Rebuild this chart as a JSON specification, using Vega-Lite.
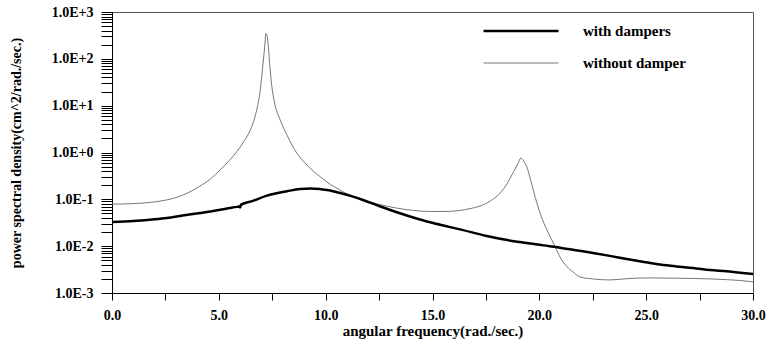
{
  "$schema": "https://vega.github.io/schema/vega-lite/v6.json",
  "width": 641,
  "height": 281,
  "autosize": {"type": "none"},
  "padding": {"left": 112, "top": 12, "right": 19, "bottom": 48},
  "background": "white",
  "config": {
    "view": {"stroke": "#555555", "strokeWidth": 1},
    "font": "Liberation Serif",
    "axis": {"grid": false, "domainColor": "black", "tickColor": "black", "labelColor": "black", "titleColor": "black", "labelFont": "Liberation Serif", "titleFont": "Liberation Serif", "labelFontWeight": "bold", "titleFontWeight": "bold", "labelOverlap": false, "labelBound": false, "labelFlush": false}
  },
  "datasets": {
    "psd": [
      {"series": "without damper", "freq": 0, "psd": 0.079},
      {"series": "without damper", "freq": 1.0, "psd": 0.081},
      {"series": "without damper", "freq": 1.8, "psd": 0.086},
      {"series": "without damper", "freq": 2.6, "psd": 0.098},
      {"series": "without damper", "freq": 3.35, "psd": 0.125},
      {"series": "without damper", "freq": 4.1, "psd": 0.19},
      {"series": "without damper", "freq": 4.6, "psd": 0.27},
      {"series": "without damper", "freq": 5.07, "psd": 0.43},
      {"series": "without damper", "freq": 5.5, "psd": 0.68},
      {"series": "without damper", "freq": 5.85, "psd": 1.05},
      {"series": "without damper", "freq": 6.2, "psd": 1.8},
      {"series": "without damper", "freq": 6.47, "psd": 3.0},
      {"series": "without damper", "freq": 6.7, "psd": 6.0},
      {"series": "without damper", "freq": 6.94, "psd": 22},
      {"series": "without damper", "freq": 7.08, "psd": 90},
      {"series": "without damper", "freq": 7.15, "psd": 190},
      {"series": "without damper", "freq": 7.2, "psd": 350},
      {"series": "without damper", "freq": 7.25, "psd": 320},
      {"series": "without damper", "freq": 7.31, "psd": 200},
      {"series": "without damper", "freq": 7.4, "psd": 60},
      {"series": "without damper", "freq": 7.48, "psd": 26},
      {"series": "without damper", "freq": 7.6, "psd": 12},
      {"series": "without damper", "freq": 7.87, "psd": 5.0},
      {"series": "without damper", "freq": 8.2, "psd": 2.3},
      {"series": "without damper", "freq": 8.65, "psd": 0.97},
      {"series": "without damper", "freq": 9.0, "psd": 0.62},
      {"series": "without damper", "freq": 9.42, "psd": 0.40},
      {"series": "without damper", "freq": 9.8, "psd": 0.29},
      {"series": "without damper", "freq": 10.21, "psd": 0.21},
      {"series": "without damper", "freq": 10.6, "psd": 0.165},
      {"series": "without damper", "freq": 11.0, "psd": 0.13},
      {"series": "without damper", "freq": 11.75, "psd": 0.098},
      {"series": "without damper", "freq": 12.5, "psd": 0.078},
      {"series": "without damper", "freq": 13.33, "psd": 0.065},
      {"series": "without damper", "freq": 14.1, "psd": 0.058},
      {"series": "without damper", "freq": 14.89, "psd": 0.055},
      {"series": "without damper", "freq": 15.6, "psd": 0.055},
      {"series": "without damper", "freq": 16.29, "psd": 0.058},
      {"series": "without damper", "freq": 16.8, "psd": 0.064},
      {"series": "without damper", "freq": 17.23, "psd": 0.072},
      {"series": "without damper", "freq": 17.7, "psd": 0.092},
      {"series": "without damper", "freq": 18.16, "psd": 0.135},
      {"series": "without damper", "freq": 18.5, "psd": 0.22},
      {"series": "without damper", "freq": 18.77, "psd": 0.37},
      {"series": "without damper", "freq": 19.0, "psd": 0.58},
      {"series": "without damper", "freq": 19.14, "psd": 0.76},
      {"series": "without damper", "freq": 19.3, "psd": 0.62},
      {"series": "without damper", "freq": 19.41, "psd": 0.50},
      {"series": "without damper", "freq": 19.6, "psd": 0.25},
      {"series": "without damper", "freq": 19.88, "psd": 0.085},
      {"series": "without damper", "freq": 20.1, "psd": 0.042},
      {"series": "without damper", "freq": 20.35, "psd": 0.0225},
      {"series": "without damper", "freq": 20.73, "psd": 0.0099},
      {"series": "without damper", "freq": 21.0, "psd": 0.0055},
      {"series": "without damper", "freq": 21.28, "psd": 0.0037},
      {"series": "without damper", "freq": 21.58, "psd": 0.0028},
      {"series": "without damper", "freq": 21.9, "psd": 0.0022},
      {"series": "without damper", "freq": 22.5, "psd": 0.0020},
      {"series": "without damper", "freq": 23.3, "psd": 0.0019},
      {"series": "without damper", "freq": 24.1, "psd": 0.00202},
      {"series": "without damper", "freq": 25.0, "psd": 0.0021},
      {"series": "without damper", "freq": 25.65, "psd": 0.00209},
      {"series": "without damper", "freq": 26.4, "psd": 0.00207},
      {"series": "without damper", "freq": 27.2, "psd": 0.00204},
      {"series": "without damper", "freq": 28.0, "psd": 0.0020},
      {"series": "without damper", "freq": 28.77, "psd": 0.00193},
      {"series": "without damper", "freq": 29.4, "psd": 0.00185},
      {"series": "without damper", "freq": 30.0, "psd": 0.00173},
      {"series": "with dampers", "freq": 0, "psd": 0.0328},
      {"series": "with dampers", "freq": 1.0, "psd": 0.0345},
      {"series": "with dampers", "freq": 2.0, "psd": 0.0375},
      {"series": "with dampers", "freq": 2.57, "psd": 0.040},
      {"series": "with dampers", "freq": 3.3, "psd": 0.045},
      {"series": "with dampers", "freq": 4.13, "psd": 0.051},
      {"series": "with dampers", "freq": 4.6, "psd": 0.055},
      {"series": "with dampers", "freq": 5.07, "psd": 0.060},
      {"series": "with dampers", "freq": 5.5, "psd": 0.065},
      {"series": "with dampers", "freq": 5.85, "psd": 0.069},
      {"series": "with dampers", "freq": 5.96, "psd": 0.070},
      {"series": "with dampers", "freq": 6.0, "psd": 0.067},
      {"series": "with dampers", "freq": 6.04, "psd": 0.077},
      {"series": "with dampers", "freq": 6.6, "psd": 0.093},
      {"series": "with dampers", "freq": 7.25, "psd": 0.12},
      {"series": "with dampers", "freq": 7.7, "psd": 0.135},
      {"series": "with dampers", "freq": 8.19, "psd": 0.149},
      {"series": "with dampers", "freq": 8.8, "psd": 0.166},
      {"series": "with dampers", "freq": 9.3, "psd": 0.171},
      {"series": "with dampers", "freq": 9.8, "psd": 0.164},
      {"series": "with dampers", "freq": 10.21, "psd": 0.155},
      {"series": "with dampers", "freq": 10.68, "psd": 0.136},
      {"series": "with dampers", "freq": 11.2, "psd": 0.117},
      {"series": "with dampers", "freq": 11.75, "psd": 0.097},
      {"series": "with dampers", "freq": 12.5, "psd": 0.072},
      {"series": "with dampers", "freq": 13.33, "psd": 0.053},
      {"series": "with dampers", "freq": 14.1, "psd": 0.041},
      {"series": "with dampers", "freq": 14.89, "psd": 0.0323},
      {"series": "with dampers", "freq": 15.6, "psd": 0.027},
      {"series": "with dampers", "freq": 16.29, "psd": 0.0228},
      {"series": "with dampers", "freq": 17.54, "psd": 0.0165},
      {"series": "with dampers", "freq": 18.5, "psd": 0.0135},
      {"series": "with dampers", "freq": 19.41, "psd": 0.0117},
      {"series": "with dampers", "freq": 20.2, "psd": 0.0104},
      {"series": "with dampers", "freq": 20.97, "psd": 0.0093},
      {"series": "with dampers", "freq": 21.7, "psd": 0.0082},
      {"series": "with dampers", "freq": 22.51, "psd": 0.00716},
      {"series": "with dampers", "freq": 23.3, "psd": 0.0062},
      {"series": "with dampers", "freq": 24.09, "psd": 0.00533},
      {"series": "with dampers", "freq": 24.9, "psd": 0.0046},
      {"series": "with dampers", "freq": 25.65, "psd": 0.00405},
      {"series": "with dampers", "freq": 26.4, "psd": 0.0037},
      {"series": "with dampers", "freq": 27.19, "psd": 0.00343},
      {"series": "with dampers", "freq": 28.0, "psd": 0.0031},
      {"series": "with dampers", "freq": 28.77, "psd": 0.0029},
      {"series": "with dampers", "freq": 29.4, "psd": 0.0027},
      {"series": "with dampers", "freq": 30.0, "psd": 0.00255}
    ]
  },
  "data": {"name": "psd"},
  "encoding": {
    "x": {
      "field": "freq", "type": "quantitative",
      "scale": {"domain": [0, 30], "nice": false, "zero": false},
      "axis": {
        "values": [0, 2.5, 5, 7.5, 10, 12.5, 15, 17.5, 20, 22.5, 25, 27.5, 30],
        "labelExpr": "datum.value % 5 === 0 ? format(datum.value, '.1f') : ''",
        "tickSize": 7, "labelPadding": 8, "labelFontSize": 14,
        "title": "angular frequency(rad./sec.)", "titleFontSize": 15, "titlePadding": 1
      }
    },
    "y": {
      "field": "psd", "type": "quantitative",
      "scale": {"type": "log", "domain": [0.001, 1000], "nice": false},
      "axis": {
        "values": [0.001, 0.002, 0.003, 0.004, 0.005, 0.006, 0.007, 0.008, 0.009, 0.01, 0.02, 0.03, 0.04, 0.05, 0.06, 0.07, 0.08, 0.09, 0.1, 0.2, 0.3, 0.4, 0.5, 0.6, 0.7, 0.8, 0.9, 1, 2, 3, 4, 5, 6, 7, 8, 9, 10, 20, 30, 40, 50, 60, 70, 80, 90, 100, 200, 300, 400, 500, 600, 700, 800, 900, 1000],
        "labelExpr": "abs(log(datum.value)/LN10 - round(log(datum.value)/LN10)) < 0.000001 ? '1.0E' + (round(log(datum.value)/LN10) >= 0 ? '+' : '-') + abs(round(log(datum.value)/LN10)) : ''",
        "tickSize": 11, "labelPadding": 8, "labelFontSize": 14,
        "title": "power spectral density(cm^2/rad./sec.)", "titleFontSize": 14,
        "titleX": -96, "titleBaseline": "middle"
      }
    },
    "color": {
      "field": "series", "type": "nominal",
      "scale": {"domain": ["with dampers", "without damper"], "range": ["black", "#777777"]},
      "legend": {
        "title": null, "orient": "none", "legendX": 401.5, "legendY": 11.5,
        "symbolType": "M-5,0H5", "symbolSize": 225, "labelOffset": 54.5,
        "rowPadding": 16, "padding": 0,
        "labelFont": "Liberation Serif", "labelFontWeight": "bold", "labelFontSize": 15, "labelColor": "black",
        "encode": {"symbols": {"update": {"strokeWidth": {"signal": "datum.value === 'with dampers' ? 2.5 : 1"}}}}
      }
    }
  },
  "layer": [
    {"transform": [{"filter": "datum.series === 'without damper'"}], "mark": {"type": "line", "strokeWidth": 1, "interpolate": "monotone"}},
    {"transform": [{"filter": "datum.series === 'with dampers'"}], "mark": {"type": "line", "strokeWidth": 2.5, "interpolate": "monotone"}}
  ]
}
